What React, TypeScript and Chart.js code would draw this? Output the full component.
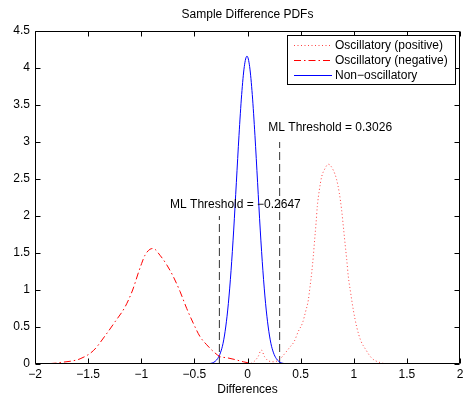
import React, { useEffect, useRef } from "react";
import { Chart, registerables } from "chart.js";

Chart.register(...registerables);

// ---- Data ----
const posX = [0.0, 0.05, 0.1, 0.13, 0.16, 0.2, 0.25, 0.3, 0.353, 0.4, 0.438, 0.478, 0.519, 0.547, 0.572, 0.588, 0.604, 0.619, 0.632, 0.645, 0.657, 0.676, 0.698, 0.729, 0.76, 0.807, 0.839, 0.864, 0.886, 0.902, 0.918, 0.934, 0.949, 0.971, 0.996, 1.028, 1.065, 1.115, 1.169, 1.247, 1.37, 1.45];
const posY = [0.0, 0.02, 0.1, 0.19, 0.1, 0.04, 0.03, 0.06, 0.145, 0.23, 0.3, 0.44, 0.56, 0.71, 0.86, 1.04, 1.23, 1.45, 1.68, 1.9, 2.13, 2.35, 2.53, 2.64, 2.7, 2.62, 2.49, 2.31, 2.08, 1.86, 1.63, 1.41, 1.18, 0.96, 0.73, 0.5, 0.32, 0.19, 0.08, 0.02, 0.0, 0.0];

const negX = [-2.0, -1.9, -1.8, -1.765, -1.655, -1.576, -1.451, -1.341, -1.247, -1.153, -1.081, -1.028, -0.996, -0.965, -0.918, -0.887, -0.824, -0.76, -0.698, -0.635, -0.572, -0.51, -0.447, -0.384, -0.322, -0.259, -0.196, -0.118, -0.04, 0.024, 0.05];
const negY = [0.0, 0.003, 0.012, 0.02, 0.04, 0.07, 0.18, 0.38, 0.57, 0.77, 1.0, 1.23, 1.36, 1.47, 1.55, 1.56, 1.47, 1.34, 1.18, 0.98, 0.75, 0.55, 0.37, 0.26, 0.17, 0.1, 0.085, 0.06, 0.03, 0.01, 0.0];

const nonX = [-1.15, -0.6, -0.4, -0.355, -0.33, -0.305, -0.28, -0.255, -0.23, -0.205, -0.18, -0.155, -0.13, -0.105, -0.08, -0.055, -0.03, -0.005, 0.02, 0.045, 0.07, 0.095, 0.12, 0.145, 0.17, 0.195, 0.22, 0.245, 0.27, 0.295, 0.32, 0.345, 0.38, 0.44, 0.48, 0.52];
const nonY = [0, 0, 0.001, 0.006, 0.015, 0.035, 0.075, 0.15, 0.28, 0.5, 0.82, 1.26, 1.81, 2.45, 3.09, 3.64, 4.02, 4.16, 4.02, 3.64, 3.09, 2.45, 1.81, 1.26, 0.82, 0.5, 0.28, 0.15, 0.075, 0.035, 0.015, 0.006, 0.002, 0.003, 0.008, 0];

const thrNeg = -0.2647;
const thrNegTop = 2.0;
const thrPos = 0.3026;
const thrPosTop = 3.0;

const thrNegLabel = "ML Threshold = \u22120.2647";
const thrNegLabelAt = [-0.729, 2.15];
const thrPosLabel = "ML Threshold = 0.3026";
const thrPosLabelAt = [0.196, 3.19];

const xTicks = [-2, -1.5, -1, -0.5, 0, 0.5, 1, 1.5, 2];
const yTicks = [0, 0.5, 1, 1.5, 2, 2.5, 3, 3.5, 4, 4.5];

const titleText = "Sample Difference PDFs";
const xLabelText = "Differences";
const legendLabels = ["Oscillatory (positive)", "Oscillatory (negative)", "Non\u2212oscillatory"];

const FONT = "'Liberation Sans', Arial, Helvetica, sans-serif";

const toPts = (xs: number[], ys: number[]) => xs.map((x, i) => ({ x, y: ys[i] }));
const fmt = (v: number) => String(v).replace("-", "\u2212");

const overlay = {
  id: "overlay",
  afterDatasetsDraw(chart: any) {
    const { ctx, chartArea: a, scales } = chart;
    const sx = scales.x;
    const sy = scales.y;
    ctx.save();
    ctx.strokeStyle = "#000";
    ctx.lineWidth = 1;
    ctx.setLineDash([]);
    const L = Math.round(a.left) + 0.5;
    const R = Math.round(a.right) - 0.5;
    const T = Math.round(a.top) + 0.5;
    const B = Math.round(a.bottom) - 0.5;
    ctx.beginPath();
    ctx.rect(L, T, R - L, B - T);
    ctx.stroke();
    const tl = 5;
    ctx.beginPath();
    xTicks.forEach((v) => {
      const px = Math.round(sx.getPixelForValue(v)) + 0.5;
      ctx.moveTo(px, B);
      ctx.lineTo(px, B - tl);
      ctx.moveTo(px, T);
      ctx.lineTo(px, T + tl);
    });
    yTicks.forEach((v) => {
      const py = Math.round(sy.getPixelForValue(v)) + 0.5;
      ctx.moveTo(L, py);
      ctx.lineTo(L + tl, py);
      ctx.moveTo(R, py);
      ctx.lineTo(R - tl, py);
    });
    ctx.stroke();

    // threshold labels
    ctx.fillStyle = "#000";
    ctx.font = `12px ${FONT}`;
    ctx.textBaseline = "middle";
    ctx.textAlign = "left";
    ctx.fillText(thrNegLabel, sx.getPixelForValue(thrNegLabelAt[0]), sy.getPixelForValue(thrNegLabelAt[1]));
    ctx.fillText(thrPosLabel, sx.getPixelForValue(thrPosLabelAt[0]), sy.getPixelForValue(thrPosLabelAt[1]));

    // title and x label
    ctx.textAlign = "center";
    const cx = (a.left + a.right) / 2;
    ctx.fillText(titleText, cx, 15);
    ctx.fillText(xLabelText, cx, 390);

    // legend
    const lx = 287.5, ly = 35.5, lw = 168, lh = 49;
    ctx.fillStyle = "#fff";
    ctx.fillRect(lx, ly, lw, lh);
    ctx.strokeStyle = "#000";
    ctx.lineWidth = 1;
    ctx.strokeRect(lx, ly, lw, lh);
    const rows = [45.5, 60.5, 75.5];
    const ds = chart.data.datasets;
    for (let i = 0; i < 3; i++) {
      const d = ds[i];
      ctx.beginPath();
      ctx.strokeStyle = d.borderColor;
      ctx.lineWidth = d.borderWidth;
      ctx.setLineDash(d.borderDash || []);
      ctx.moveTo(294, rows[i]);
      ctx.lineTo(332, rows[i]);
      ctx.stroke();
      ctx.setLineDash([]);
      ctx.fillStyle = "#000";
      ctx.textAlign = "left";
      ctx.fillText(legendLabels[i], 335, rows[i]);
    }
    ctx.restore();
  },
};

export default function App() {
  const ref = useRef<HTMLCanvasElement | null>(null);
  useEffect(() => {
    if (!ref.current) return;
    Chart.defaults.font.family = FONT;
    Chart.defaults.font.size = 12;
    Chart.defaults.color = "#000";
    const chart = new Chart(ref.current, {
      type: "scatter",
      data: {
        datasets: [
          {
            label: legendLabels[0],
            data: toPts(posX, posY),
            showLine: true,
            borderColor: "rgba(255,0,0,0.75)",
            borderWidth: 1,
            borderDash: [1, 2.5],
            pointRadius: 0,
            cubicInterpolationMode: "monotone",
          },
          {
            label: legendLabels[1],
            data: toPts(negX, negY),
            showLine: true,
            borderColor: "#ff0000",
            borderWidth: 1,
            borderDash: [7, 3, 1.5, 3],
            pointRadius: 0,
            cubicInterpolationMode: "monotone",
          },
          {
            label: legendLabels[2],
            data: toPts(nonX, nonY),
            showLine: true,
            borderColor: "#0000ff",
            borderWidth: 1,
            pointRadius: 0,
            cubicInterpolationMode: "monotone",
          },
          {
            label: "thrNeg",
            data: [{ x: thrNeg, y: 0 }, { x: thrNeg, y: thrNegTop }],
            showLine: true,
            borderColor: "#333",
            borderWidth: 1,
            borderDash: [8, 4],
            pointRadius: 0,
          },
          {
            label: "thrPos",
            data: [{ x: thrPos, y: 0 }, { x: thrPos, y: thrPosTop }],
            showLine: true,
            borderColor: "#333",
            borderWidth: 1,
            borderDash: [8, 4],
            pointRadius: 0,
          },
        ],
      },
      options: {
        animation: false,
        responsive: false,
        devicePixelRatio: 1,
        layout: { padding: { left: 0, top: 31, right: 9, bottom: 0 } },
        plugins: {
          legend: { display: false },
          title: { display: false },
          tooltip: { enabled: false },
        },
        scales: {
          x: {
            type: "linear",
            min: -2,
            max: 2,
            afterBuildTicks: (s: any) => {
              s.ticks = xTicks.map((v) => ({ value: v }));
            },
            afterFit: (s: any) => {
              s.height = 39;
            },
            grid: { display: false, drawTicks: false },
            border: { display: false },
            ticks: {
              autoSkip: false,
              maxRotation: 0,
              padding: 3,
              color: "#000",
              font: { family: FONT, size: 12 },
              callback: (v: any) => fmt(Number(v)),
            },
          },
          y: {
            type: "linear",
            min: 0,
            max: 4.5,
            afterBuildTicks: (s: any) => {
              s.ticks = yTicks.map((v) => ({ value: v }));
            },
            afterFit: (s: any) => {
              s.width = 35;
            },
            grid: { display: false, drawTicks: false },
            border: { display: false },
            ticks: {
              autoSkip: false,
              padding: 5,
              color: "#000",
              font: { family: FONT, size: 12 },
              callback: (v: any) => fmt(Number(v)),
            },
          },
        },
      },
      plugins: [overlay],
    } as any);
    return () => chart.destroy();
  }, []);
  return (
    <div style={{ position: "fixed", left: 0, top: 0, width: 469, height: 403, background: "#fff" }}>
      <canvas ref={ref} width={469} height={403} style={{ display: "block", width: 469, height: 403 }} />
    </div>
  );
}
